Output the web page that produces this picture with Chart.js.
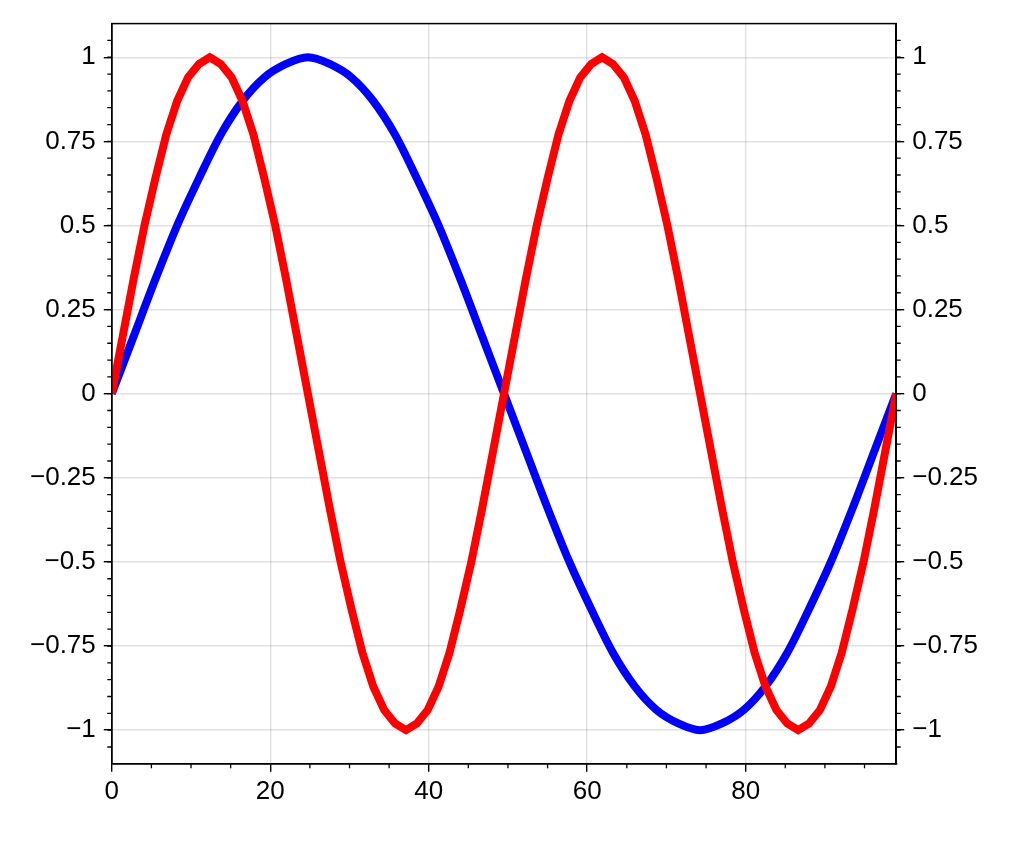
<!DOCTYPE html>
<html><head><meta charset="utf-8">
<script src="https://cdn.jsdelivr.net/npm/chart.js@4"></script>
<style>html,body{margin:0;background:#fff}#w{width:1028px;height:847px}</style>
</head><body><div id="w"><canvas id="c"></canvas></div>
<script>
const redX=[0,1.375,2.75,4.125,5.5,6.875,8.25,9.625,11,12.375,13.75,15.125,16.5,17.875,19.25,20.625,22,23.375,24.75,26.125,27.5,28.875,30.25,31.625,33,34.375,35.75,37.125,38.5,39.875,41.25,42.625,44,45.375,46.75,48.125,49.5,50.875,52.25,53.625,55,56.375,57.75,59.125,60.5,61.875,63.25,64.625,66,67.375,68.75,70.125,71.5,72.875,74.25,75.625,77,78.375,79.75,81.125,82.5,83.875,85.25,86.625,88,89.375,90.75,92.125,93.5,94.875,96.25,97.625,99];
const redY=[0,.17,.34,.5,.64,.77,.87,.94,.98,1,.98,.94,.87,.77,.64,.5,.34,.17,0,-.17,-.34,-.5,-.64,-.77,-.87,-.94,-.98,-1,-.98,-.94,-.87,-.77,-.64,-.5,-.34,-.17,
0,.17,.34,.5,.64,.77,.87,.94,.98,1,.98,.94,.87,.77,.64,.5,.34,.17,0,-.17,-.34,-.5,-.64,-.77,-.87,-.94,-.98,-1,-.98,-.94,-.87,-.77,-.64,-.5,-.34,-.17,0];
const blueX=[0,2.75,5.5,8.25,11,13.75,16.5,19.25,22,24.75,27.5,30.25,33,35.75,38.5,41.25,44,46.75,49.5,52.25,55,57.75,60.5,63.25,66,68.75,71.5,74.25,77,79.75,82.5,85.25,88,90.75,93.5,96.25,99];
const blueY=[0,.17,.34,.5,.64,.77,.87,.94,.98,1,.98,.94,.87,.77,.64,.5,.34,.17,0,-.17,-.34,-.5,-.64,-.77,-.87,-.94,-.98,-1,-.98,-.94,-.87,-.77,-.64,-.5,-.34,-.17,0];
const yTicks=[-1,-0.75,-0.5,-0.25,0,0.25,0.5,0.75,1];
const xTicks=[0,20,40,60,80];
const fmt=v=>(v<0?'\u2212':'')+String(Math.abs(v));
const font={family:'"Liberation Sans", Arial, sans-serif',size:26};
const minor={id:'minor',afterDraw(ch){
  const c=ch.ctx,a=ch.chartArea,x=ch.scales.x,y=ch.scales.y;
  c.save();c.strokeStyle='#000';c.lineWidth=1.3;
  for(let v=-1.05;v<=1.06;v+=0.05){const p=y.getPixelForValue(v);
    c.beginPath();c.moveTo(a.left,p);c.lineTo(a.left-4.5,p);c.moveTo(a.right,p);c.lineTo(a.right+4.5,p);c.stroke();}
  for(let v=5;v<99;v+=5){if(v%20===0)continue;const p=x.getPixelForValue(v);
    c.beginPath();c.moveTo(p,a.bottom);c.lineTo(p,a.bottom+4.5);c.stroke();}
  c.lineWidth=1.5;c.strokeRect(a.left,a.top,a.right-a.left,a.bottom-a.top);c.restore();}};
const yAxis=(pos,grid)=>({type:'linear',position:pos,min:-1.1,max:1.1,
  afterBuildTicks:s=>{s.ticks=yTicks.map(v=>({value:v}))},
  ticks:{callback:fmt,font,color:'#000',padding:8},
  grid:{display:true,drawOnChartArea:grid,color:'rgba(0,0,0,0.12)',tickColor:'#000',tickLength:8,lineWidth:1.4},
  border:{display:true,color:'#000',width:1.5}});
new Chart(document.getElementById('c'),{type:'line',
 data:{datasets:[
  {data:redX.map((x,i)=>({x,y:redY[i]})),borderColor:'#ff0000',borderWidth:8,pointRadius:0,tension:0},
  {data:blueX.map((x,i)=>({x,y:blueY[i]})),borderColor:'#0000ff',borderWidth:8,pointRadius:0,tension:0.4,cubicInterpolationMode:'monotone'}]},
 options:{responsive:true,maintainAspectRatio:false,animation:false,events:[],
  layout:{padding:{left:22,right:42,top:18,bottom:36}},
  plugins:{legend:{display:false},tooltip:{enabled:false}},
  scales:{
   x:{type:'linear',min:0,max:99,afterBuildTicks:s=>{s.ticks=xTicks.map(v=>({value:v}))},
      ticks:{font,color:'#000',padding:4,maxRotation:0},
      grid:{color:'rgba(0,0,0,0.12)',tickColor:'#000',tickLength:8,lineWidth:1.4},border:{color:'#000',width:1.5}},
   y:yAxis('left',true),y2:yAxis('right',false)}}
 ,plugins:[minor]});
</script></body></html>
